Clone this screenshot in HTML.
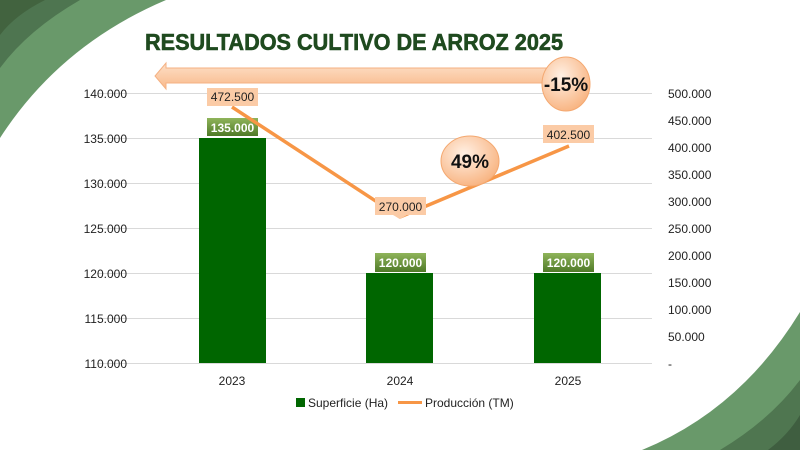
<!DOCTYPE html>
<html><head><meta charset="utf-8"><style>
body{margin:0;background:#fff}
svg{display:block}
text{font-family:"Liberation Sans",sans-serif}
</style></head><body>
<svg width="800" height="450" viewBox="0 0 800 450" xmlns="http://www.w3.org/2000/svg">
<defs>
<linearGradient id="og" x1="0" y1="0" x2="0" y2="1"><stop offset="0" stop-color="#fde0c8"/><stop offset="1" stop-color="#f9b98a"/></linearGradient>
<radialGradient id="cg" cx="0.4" cy="0.35" r="0.7"><stop offset="0" stop-color="#fff0e4"/><stop offset="1" stop-color="#f8b27e"/></radialGradient>
<linearGradient id="gg" x1="0" y1="0" x2="0" y2="1"><stop offset="0" stop-color="#8fb45a"/><stop offset="1" stop-color="#4f7a28"/></linearGradient>
</defs>
<!-- corner decorations -->
<path d="M0 0 L166 0 Q60 45 0 138 Z" fill="#69996a"/>
<path d="M0 0 L80 0 Q28 30 0 68 Z" fill="#4e7550"/>
<path d="M0 0 L45 0 Q15 15 0 35 Z" fill="#42633f"/>
<path d="M800 312 Q740 410 642 450 L800 450 Z" fill="#69996a"/>
<path d="M800 380 Q770 420 720 450 L800 450 Z" fill="#4f7650"/>
<path d="M800 415 Q788 435 768 450 L800 450 Z" fill="#3f5e40"/>
<!-- title -->
<text x="145" y="50" font-size="23" font-weight="bold" fill="#1f4a1f" stroke="#1f4a1f" stroke-width="0.6" textLength="418" lengthAdjust="spacingAndGlyphs" style="font-family:'Liberation Sans Narrow','Liberation Sans',sans-serif">RESULTADOS CULTIVO DE ARROZ 2025</text>
<!-- grid -->
<g stroke="#d9d9d9" stroke-width="1">
<line x1="97" x2="652" y1="93.5" y2="93.5"/><line x1="97" x2="652" y1="138.5" y2="138.5"/>
<line x1="97" x2="652" y1="183.5" y2="183.5"/><line x1="97" x2="652" y1="228.5" y2="228.5"/>
<line x1="97" x2="652" y1="273.5" y2="273.5"/><line x1="97" x2="652" y1="318.5" y2="318.5"/>
<line x1="97" x2="652" y1="363.5" y2="363.5"/>
</g>
<g font-size="12" fill="#222" text-anchor="end">
<text x="127" y="98">140.000</text><text x="127" y="143">135.000</text><text x="127" y="188">130.000</text>
<text x="127" y="233">125.000</text><text x="127" y="278">120.000</text><text x="127" y="323">115.000</text><text x="127" y="368">110.000</text>
</g>
<g font-size="12" fill="#222">
<text x="668" y="98">500.000</text><text x="668" y="125">450.000</text><text x="668" y="152">400.000</text>
<text x="668" y="179">350.000</text><text x="668" y="206">300.000</text><text x="668" y="233">250.000</text>
<text x="668" y="260">200.000</text><text x="668" y="287">150.000</text><text x="668" y="314">100.000</text>
<text x="668" y="341">50.000</text><text x="668" y="368">-</text>
</g>
<!-- bars -->
<rect x="199" y="138" width="67" height="225" fill="#006600"/>
<rect x="366" y="273" width="67" height="90" fill="#006600"/>
<rect x="534" y="273" width="67" height="90" fill="#006600"/>
<g font-size="12" font-weight="bold" fill="#fff" text-anchor="middle">
<rect x="207" y="118" width="51" height="18" fill="url(#gg)"/><text x="232.5" y="132">135.000</text>
<rect x="375" y="253" width="51" height="19" fill="url(#gg)"/><text x="400.5" y="267">120.000</text>
<rect x="543" y="253" width="51" height="19" fill="url(#gg)"/><text x="568.5" y="267">120.000</text>
</g>
<g font-size="12" fill="#222" text-anchor="middle">
<text x="232" y="385">2023</text><text x="400" y="385">2024</text><text x="568" y="385">2025</text>
</g>
<!-- arrow -->
<path d="M558 68 L250 68 L250 68 L252 68 L252 68 L252 68 L252 68 L252 68 Z" fill="none"/>
<path d="M558 68 L166 68 L166 63 L155 76 L166 89 L166 83 L558 83 Z" fill="url(#og)" stroke="#f4b183" stroke-width="1"/>
<!-- line -->
<polyline points="232,107 400,217 569,146" fill="none" stroke="#f79646" stroke-width="3.5" stroke-linejoin="round"/>
<g font-size="12" fill="#222" text-anchor="middle">
<rect x="207" y="88" width="51" height="18" fill="#fbcba6"/><text x="232.5" y="101">472.500</text>
<rect x="375" y="197" width="51" height="18" fill="#fbcba6"/><text x="400.5" y="211">270.000</text>
<path d="M393 215 L400 219 L407 215Z" fill="#fbcba6"/>
<rect x="543" y="125" width="51" height="18" fill="#fbcba6"/><text x="568.5" y="139">402.500</text>
</g>
<!-- circles -->
<ellipse cx="566" cy="84" rx="24" ry="27" fill="url(#cg)" stroke="#f4a870"/>
<text x="566" y="91" font-size="19" font-weight="bold" text-anchor="middle" fill="#111">-15%</text>
<ellipse cx="470" cy="161" rx="29" ry="25" fill="url(#cg)" stroke="#f4a870"/>
<text x="470" y="168" font-size="19" font-weight="bold" text-anchor="middle" fill="#111">49%</text>
<!-- legend -->
<rect x="296" y="398" width="9" height="9" fill="#006600"/>
<text x="308" y="407" font-size="12" fill="#222">Superficie (Ha)</text>
<line x1="398" x2="422" y1="402.5" y2="402.5" stroke="#f79646" stroke-width="3"/>
<text x="425" y="407" font-size="12" fill="#222">Producción (TM)</text>
</svg>
</body></html>
